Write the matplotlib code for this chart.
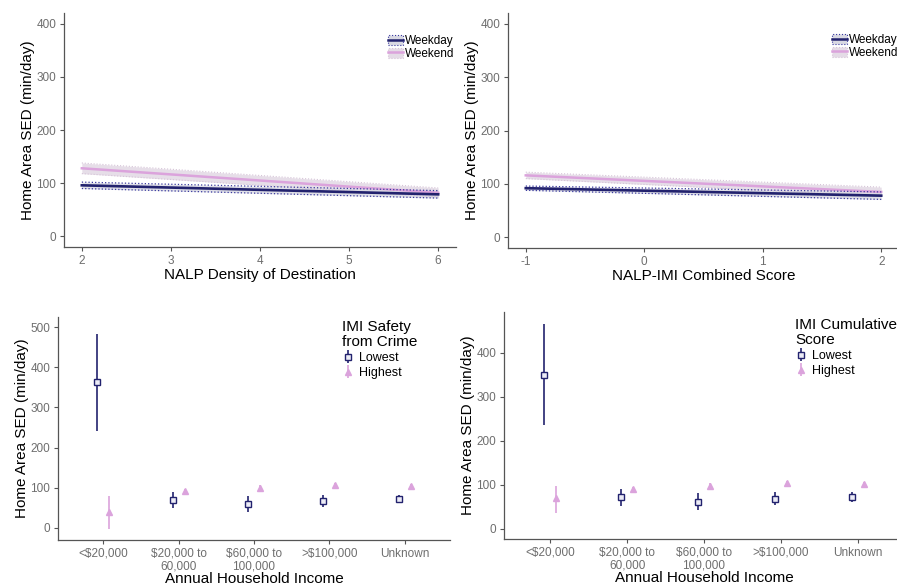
import matplotlib.pyplot as plt
from matplotlib.patches import Patch
from matplotlib.lines import Line2D

plt.rcParams["font.family"] = ["Liberation Sans", "DejaVu Sans"]
plt.rcParams["axes.unicode_minus"] = False

NAVY = "#22226e"
PINK = "#dba3dc"
TICK_GREY = "#6e6e6e"

# top panels: fitted lines (end points) and their confidence bands
density_x = [2, 6]
density_weekday = [96, 79]
density_weekday_lo = [90, 72]
density_weekday_hi = [102, 86]
density_weekend = [128, 82]
density_weekend_lo = [118, 74]
density_weekend_hi = [138, 91]

combined_x = [-1, 2]
combined_weekday = [92, 78]
combined_weekday_lo = [88, 71]
combined_weekday_hi = [96, 85]
combined_weekend = [116, 85]
combined_weekend_lo = [110, 77]
combined_weekend_hi = [122, 94]

# bottom panels
income = ["<$20,000", "$20,000 to\n60,000", "$60,000 to\n100,000", ">$100,000", "Unknown"]

safety_lowest = [362, 70, 60, 67, 71]
safety_lowest_lo = [242, 49, 40, 53, 61]
safety_lowest_hi = [483, 90, 80, 82, 82]
safety_highest = [40, 91, 99, 108, 105]
safety_highest_lo = [-3, 82, 92, 103, 101]
safety_highest_hi = [80, 98, 107, 113, 109]

cumul_lowest = [349, 72, 62, 68, 73]
cumul_lowest_lo = [235, 52, 43, 54, 62]
cumul_lowest_hi = [465, 91, 81, 83, 83]
cumul_highest = [70, 90, 97, 104, 102]
cumul_highest_lo = [37, 83, 91, 100, 98]
cumul_highest_hi = [98, 96, 104, 108, 106]


def style_axes(ax):
    for side in ["top", "right"]:
        ax.spines[side].set_visible(False)
    for side in ["left", "bottom"]:
        ax.spines[side].set_color("#555555")
        ax.spines[side].set_linewidth(0.9)
    ax.tick_params(colors="#555555", labelcolor=TICK_GREY, labelsize=8.5, length=3, width=0.8, pad=2.5)


def line_panel(ax, x, wd, wd_lo, wd_hi, we, we_lo, we_hi, xlabel, xlim, xticks, legend_anchor):
    ax.fill_between(x, we_lo, we_hi, color="#e4dbe6", alpha=0.9, linewidth=0)
    ax.plot(x, we_lo, color="#d6c4d8", lw=0.8, ls=":")
    ax.plot(x, we_hi, color="#d6c4d8", lw=0.8, ls=":")
    ax.plot(x, we, color=PINK, lw=1.8)
    ax.fill_between(x, wd_lo, wd_hi, color="#d8d8e2", alpha=0.8, linewidth=0)
    ax.plot(x, wd_lo, color="#3a3aa0", lw=0.9, ls=":")
    ax.plot(x, wd_hi, color="#3a3aa0", lw=0.9, ls=":")
    ax.plot(x, wd, color=NAVY, lw=1.9)
    ax.set_xlim(xlim)
    ax.set_ylim(-20, 420)
    ax.set_xticks(xticks)
    ax.set_yticks([0, 100, 200, 300, 400])
    ax.set_xlabel(xlabel, fontsize=11, labelpad=1)
    ax.set_ylabel("Home Area SED (min/day)", fontsize=11, labelpad=1)
    style_axes(ax)
    handles = [
        (Patch(facecolor="#d8d8e2", edgecolor="#3a3aa0", ls=":", lw=0.8), Line2D([], [], color=NAVY, lw=1.8)),
        (Patch(facecolor="#e4dbe6", edgecolor="#d6c4d8", ls=":", lw=0.8), Line2D([], [], color=PINK, lw=1.8)),
    ]
    ax.legend(handles, ["Weekday", "Weekend"], loc="upper left", bbox_to_anchor=legend_anchor,
              bbox_transform=ax.figure.transFigure, frameon=False, fontsize=8.5,
              handlelength=1.3, handleheight=1.0, handletextpad=0.15, labelspacing=0.05, borderpad=0)


def dot_panel(ax, low, low_lo, low_hi, high, high_lo, high_hi, title, ylim, yticks, legend_anchor):
    pos = range(len(income))
    xl = [p - 0.08 for p in pos]
    xh = [p + 0.08 for p in pos]
    ax.errorbar(xh, high, yerr=[[h - l for h, l in zip(high, high_lo)], [u - h for h, u in zip(high, high_hi)]],
                fmt="^", color=PINK, ms=5, elinewidth=1.2, capsize=0, label="Highest")
    ax.errorbar(xl, low, yerr=[[h - l for h, l in zip(low, low_lo)], [u - h for h, u in zip(low, low_hi)]],
                fmt="s", color=NAVY, mfc="#ececf6", mec=NAVY, mew=1.0, ms=5, elinewidth=1.2, capsize=0,
                label="Lowest")
    ax.set_xlim(-0.6, 4.6)
    ax.set_ylim(ylim)
    ax.set_xticks(list(pos))
    ax.set_xticklabels(income, linespacing=1.05)
    ax.set_yticks(yticks)
    ax.set_xlabel("Annual Household Income", fontsize=11, labelpad=0)
    ax.set_ylabel("Home Area SED (min/day)", fontsize=11, labelpad=1)
    style_axes(ax)
    h, l = ax.get_legend_handles_labels()
    leg = ax.legend(h[::-1], l[::-1], title=title, loc="upper left", bbox_to_anchor=legend_anchor,
                    bbox_transform=ax.figure.transFigure, frameon=False, fontsize=9,
                    title_fontsize=11, alignment="left", handlelength=0.9, handletextpad=0.4,
                    labelspacing=0.25, borderpad=0)
    leg.get_title().set_linespacing(1.05)


fig = plt.figure(figsize=(8.97, 5.85), dpi=100)

ax1 = fig.add_axes([64 / 897, 1 - 247 / 585, 392 / 897, 234 / 585])
line_panel(ax1, density_x, density_weekday, density_weekday_lo, density_weekday_hi,
           density_weekend, density_weekend_lo, density_weekend_hi,
           "NALP Density of Destination", (1.8, 6.2), [2, 3, 4, 5, 6], (382 / 897, 1 - 29 / 585))

ax2 = fig.add_axes([508 / 897, 1 - 248 / 585, 391 / 897, 235 / 585])
line_panel(ax2, combined_x, combined_weekday, combined_weekday_lo, combined_weekday_hi,
           combined_weekend, combined_weekend_lo, combined_weekend_hi,
           "NALP-IMI Combined Score", (-1.15, 2.15), [-1, 0, 1, 2], (826 / 897, 1 - 28 / 585))

ax3 = fig.add_axes([58 / 897, 1 - 540 / 585, 392 / 897, 223 / 585])
dot_panel(ax3, safety_lowest, safety_lowest_lo, safety_lowest_hi,
          safety_highest, safety_highest_lo, safety_highest_hi,
          "IMI Safety\nfrom Crime", (-30, 525), [0, 100, 200, 300, 400, 500], (336 / 897, 1 - 314 / 585))

ax4 = fig.add_axes([504 / 897, 1 - 539 / 585, 400 / 897, 227 / 585])
dot_panel(ax4, cumul_lowest, cumul_lowest_lo, cumul_lowest_hi,
          cumul_highest, cumul_highest_lo, cumul_highest_hi,
          "IMI Cumulative\nScore", (-23, 493), [0, 100, 200, 300, 400], (789 / 897, 1 - 312 / 585))

fig.savefig("out.png", dpi=100)
